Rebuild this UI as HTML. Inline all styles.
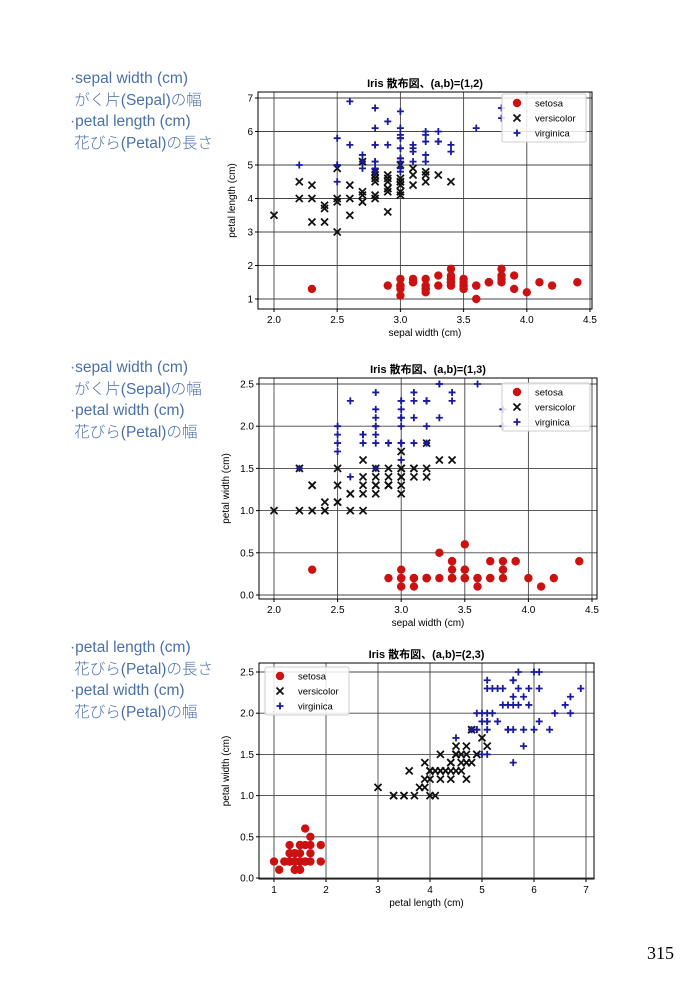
<!DOCTYPE html>
<html><head><meta charset="utf-8">
<style>
body{margin:0;background:#fff;width:700px;height:993px;overflow:hidden;position:relative;font-family:"Liberation Sans","Noto Sans CJK JP",sans-serif}
.lt{position:absolute;left:70px;color:#4a70a8;font-size:15.5px;line-height:21.5px;font-family:"Liberation Sans","Noto Sans CJK JP",sans-serif;font-weight:300}
.pn{position:absolute;left:647px;top:943px;font-family:"Liberation Serif",serif;font-size:18px}
svg{position:absolute;left:0;top:0}
</style></head><body>
<div class="lt" style="top:68px">·sepal width (cm)<br>&nbsp;がく片(Sepal)の幅<br>·petal length (cm)<br>&nbsp;花びら(Petal)の長さ</div>
<div class="lt" style="top:357px">·sepal width (cm)<br>&nbsp;がく片(Sepal)の幅<br>·petal width (cm)<br>&nbsp;花びら(Petal)の幅</div>
<div class="lt" style="top:637px">·petal length (cm)<br>&nbsp;花びら(Petal)の長さ<br>·petal width (cm)<br>&nbsp;花びら(Petal)の幅</div>
<div class="pn">315</div>
<svg id="s" width="700" height="993" xmlns="http://www.w3.org/2000/svg"></svg>
<script>
var D="3.5,1.4,0.2 3.0,1.4,0.2 3.2,1.3,0.2 3.1,1.5,0.2 3.6,1.4,0.2 3.9,1.7,0.4 3.4,1.4,0.3 3.4,1.5,0.2 2.9,1.4,0.2 3.1,1.5,0.1 3.7,1.5,0.2 3.4,1.6,0.2 3.0,1.4,0.1 3.0,1.1,0.1 4.0,1.2,0.2 4.4,1.5,0.4 3.9,1.3,0.4 3.5,1.4,0.3 3.8,1.7,0.3 3.8,1.5,0.3 3.4,1.7,0.2 3.7,1.5,0.4 3.6,1.0,0.2 3.3,1.7,0.5 3.4,1.9,0.2 3.0,1.6,0.2 3.4,1.6,0.4 3.5,1.5,0.2 3.4,1.4,0.2 3.2,1.6,0.2 3.1,1.6,0.2 3.4,1.5,0.4 4.1,1.5,0.1 4.2,1.4,0.2 3.1,1.5,0.2 3.2,1.2,0.2 3.5,1.3,0.2 3.6,1.4,0.1 3.0,1.3,0.2 3.4,1.5,0.2 3.5,1.3,0.3 2.3,1.3,0.3 3.2,1.3,0.2 3.5,1.6,0.6 3.8,1.9,0.4 3.0,1.4,0.3 3.8,1.6,0.2 3.2,1.4,0.2 3.7,1.5,0.2 3.3,1.4,0.2 "+
"3.2,4.7,1.4 3.2,4.5,1.5 3.1,4.9,1.5 2.3,4.0,1.3 2.8,4.6,1.5 2.8,4.5,1.3 3.3,4.7,1.6 2.4,3.3,1.0 2.9,4.6,1.3 2.7,3.9,1.4 2.0,3.5,1.0 3.0,4.2,1.5 2.2,4.0,1.0 2.9,4.7,1.4 2.9,3.6,1.3 3.1,4.4,1.4 3.0,4.5,1.5 2.7,4.1,1.0 2.2,4.5,1.5 2.5,3.9,1.1 3.2,4.8,1.8 2.8,4.0,1.3 2.5,4.9,1.5 2.8,4.7,1.2 2.9,4.3,1.3 3.0,4.4,1.4 2.8,4.8,1.4 3.0,5.0,1.7 2.9,4.5,1.5 2.6,3.5,1.0 2.4,3.8,1.1 2.4,3.7,1.0 2.7,3.9,1.2 2.7,5.1,1.6 3.0,4.5,1.5 3.4,4.5,1.6 3.1,4.7,1.5 2.3,4.4,1.3 3.0,4.1,1.3 2.5,4.0,1.3 2.6,4.4,1.2 3.0,4.6,1.4 2.6,4.0,1.2 2.3,3.3,1.0 2.7,4.2,1.3 3.0,4.2,1.2 2.9,4.2,1.3 2.9,4.3,1.3 2.5,3.0,1.1 2.8,4.1,1.3 "+
"3.3,6.0,2.5 2.7,5.1,1.9 3.0,5.9,2.1 2.9,5.6,1.8 3.0,5.8,2.2 3.0,6.6,2.1 2.5,4.5,1.7 2.9,6.3,1.8 2.5,5.8,1.8 3.6,6.1,2.5 3.2,5.1,2.0 2.7,5.3,1.9 3.0,5.5,2.1 2.5,5.0,2.0 2.8,5.1,2.4 3.2,5.3,2.3 3.0,5.5,1.8 3.8,6.7,2.2 2.6,6.9,2.3 2.2,5.0,1.5 3.2,5.7,2.3 2.8,4.9,2.0 2.8,6.7,2.0 2.7,4.9,1.8 3.3,5.7,2.1 3.2,6.0,1.8 2.8,4.8,1.8 3.0,4.9,1.8 2.8,5.6,2.1 3.0,5.8,1.6 2.8,6.1,1.9 3.8,6.4,2.0 2.8,5.6,2.2 2.8,5.1,1.5 2.6,5.6,1.4 3.0,6.1,2.3 3.4,5.6,2.4 3.1,5.5,1.8 3.0,4.8,1.8 3.1,5.4,2.1 3.1,5.6,2.4 3.1,5.1,2.3 2.7,5.1,1.9 3.2,5.9,2.3 3.3,5.7,2.5 3.0,5.2,2.3 2.5,5.0,1.9 3.0,5.2,2.0 3.4,5.4,2.3 3.0,5.1,1.8";
var P=D.trim().split(" ").map(function(s){return s.split(",").map(Number)});
var out="";
function mk(c,x,y){
 if(c==0)return '<circle cx="'+x+'" cy="'+y+'" r="4.2" fill="#cc1111"/>';
 if(c==1)return '<path d="M'+(x-3.5)+' '+(y-3.5)+'L'+(x+3.5)+' '+(y+3.5)+'M'+(x-3.5)+' '+(y+3.5)+'L'+(x+3.5)+' '+(y-3.5)+'" stroke="#111" stroke-width="1.8"/>';
 return '<path d="M'+(x-3.5)+' '+y+'L'+(x+3.5)+' '+y+'M'+x+' '+(y-3.5)+'L'+x+' '+(y+3.5)+'" stroke="#1a1aa0" stroke-width="1.8"/>';
}
function chart(o){
 var s="";var X=function(v){return o.x0+(v-o.xa)*(o.x1-o.x0)/(o.xb-o.xa)};var Y=function(v){return o.y0+(v-o.ya)*(o.y1-o.y0)/(o.yb-o.ya)};
 o.xt.forEach(function(t){var x=X(+t);s+='<line x1="'+x+'" y1="'+o.T+'" x2="'+x+'" y2="'+o.B+'" stroke="#444" stroke-width="0.9"/><line x1="'+x+'" y1="'+o.B+'" x2="'+x+'" y2="'+(o.B+3)+'" stroke="#000"/><text x="'+x+'" y="'+(o.B+14)+'" font-size="10" text-anchor="middle">'+t+'</text>'});
 o.yt.forEach(function(t){var y=Y(+t);s+='<line x1="'+o.L+'" y1="'+y+'" x2="'+o.R+'" y2="'+y+'" stroke="#444" stroke-width="0.9"/><line x1="'+(o.L-3)+'" y1="'+y+'" x2="'+o.L+'" y2="'+y+'" stroke="#000"/><text x="'+(o.L-5)+'" y="'+(y+3.5)+'" font-size="10" text-anchor="end">'+t+'</text>'});
 for(var c=0;c<3;c++)for(var i=c*50;i<c*50+50;i++)s+=mk(c,X(P[i][o.a]),Y(P[i][o.b]));
 s+='<rect x="'+o.L+'" y="'+o.T+'" width="'+(o.R-o.L)+'" height="'+(o.B-o.T)+'" fill="none" stroke="#000" stroke-width="1"/>';
 s+='<text x="'+((o.L+o.R)/2)+'" y="'+(o.T-5)+'" font-size="11" font-weight="bold" text-anchor="middle">Iris 散布図、(a,b)=('+o.t+')</text>';
 s+='<text x="'+((o.L+o.R)/2)+'" y="'+(o.B+27)+'" font-size="10" text-anchor="middle">'+o.xl+'</text>';
 var cy=(o.T+o.B)/2;s+='<text x="'+o.yx+'" y="'+cy+'" font-size="10" text-anchor="middle" transform="rotate(-90 '+o.yx+' '+cy+')">'+o.yl+'</text>';
 var lx=o.lx,ly=o.ly;s+='<rect x="'+lx+'" y="'+ly+'" width="'+o.lw+'" height="48" rx="2" fill="#fff" fill-opacity="0.85" stroke="#ccc"/>';
 ["setosa","versicolor","virginica"].forEach(function(n,k){var y=ly+9+k*15;s+=mk(k,lx+15,y)+'<text x="'+(lx+33)+'" y="'+(y+3.5)+'" font-size="9.5">'+n+'</text>'});
 return s;
}
out+=chart({L:258,R:592,T:92,B:309,x0:274,x1:590,xa:2,xb:4.5,y0:299,y1:98,ya:1,yb:7,a:0,b:1,xt:["2.0","2.5","3.0","3.5","4.0","4.5"],yt:["1","2","3","4","5","6","7"],t:"1,2",xl:"sepal width (cm)",yl:"petal length (cm)",yx:235,lx:502,ly:94,lw:84});
out+=chart({L:259,R:597,T:378,B:599,x0:274,x1:592,xa:2,xb:4.5,y0:595,y1:384,ya:0,yb:2.5,a:0,b:2,xt:["2.0","2.5","3.0","3.5","4.0","4.5"],yt:["0.0","0.5","1.0","1.5","2.0","2.5"],t:"1,3",xl:"sepal width (cm)",yl:"petal width (cm)",yx:229,lx:502,ly:383,lw:88});
out+=chart({L:259,R:594,T:663,B:879,x0:274,x1:586,xa:1,xb:7,y0:878,y1:672,ya:0,yb:2.5,a:1,b:2,xt:["1","2","3","4","5","6","7"],yt:["0.0","0.5","1.0","1.5","2.0","2.5"],t:"2,3",xl:"petal length (cm)",yl:"petal width (cm)",yx:229,lx:265,ly:667,lw:84});
document.getElementById("s").innerHTML=out;
</script>
</body></html>
